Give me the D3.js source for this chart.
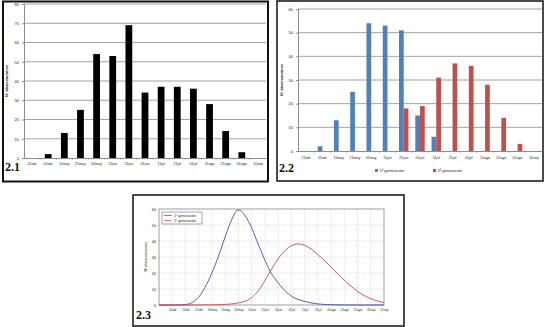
<!DOCTYPE html>
<html>
<head>
<meta charset="utf-8">
<script src="https://cdn.jsdelivr.net/npm/d3@7"></script>
<style>
  body { margin: 0; background: #fff; }
  svg text { font-family: "Liberation Sans", Arial, sans-serif; fill: #222; }
  .panel-label { font-family: "Liberation Serif", "Times New Roman", serif; font-weight: bold; fill: #111; }
</style>
</head>
<body>
<svg id="chart" width="546" height="327"></svg>
<script>
// Categories (10-day periods, labels as printed in the figure)
const categories = ['21abr', '01abr', '11may', '21may', '01may', '11jun', '21jun', '01jun',
  '11jul', '21jul', '01jul', '11ago', '21ago', '01ago', '11sep'];

// 2.1 total observations
const totalObs = [0, 2, 13, 25, 54, 53, 69, 34, 37, 37, 36, 28, 14, 3, 0];

// 2.2 observations split by generation
const gen1Obs = [0, 2, 13, 25, 54, 53, 51, 15, 6, 0, 0, 0, 0, 0, 0];
const gen2Obs = [0, 0, 0, 0, 0, 0, 18, 19, 31, 37, 36, 28, 14, 3, 0];
const seriesNames = ['1ª generación', '2ª generación'];
const seriesColors = ['#4f81bd', '#c0504d'];

const yTicks21 = [0, 10, 20, 30, 40, 50, 60, 70, 80];
const yTicks22 = [0, 10, 20, 30, 40, 50, 60];

// 2.3 fitted curves: [days since 21 mar, observations]
const curveTickDays = [10, 20, 30, 40, 50, 60, 70, 80, 90, 100, 110, 120, 130, 140, 150, 160, 170];
const curveTickLabels = ['01abr', '11abr', '21abr', '01may', '11may', '21may', '01jun', '11jun', '21jun',
  '01jul', '11jul', '21jul', '01ago', '11ago', '21ago', '01sep', '11sep'];
const yTicks23 = [0, 10, 20, 30, 40, 50, 60];
const gen1Curve = [[0, 0], [15, 0], [20, 0.3], [26, 2], [31, 6], [36, 13], [41, 22], [46, 33], [51, 45],
  [55, 53.5], [57, 57], [59, 59.2], [61, 59.3], [64, 57], [69, 50], [74, 40], [79, 30], [84, 21],
  [89, 15], [94, 10], [101, 5], [109, 2.5], [119, 0.8], [129, 0.2], [140, 0], [170, 0]];
const gen2Curve = [[0, 0], [21, 0], [41, 0.1], [54, 0.6], [61, 1.5], [69, 4], [76, 10], [84, 21],
  [91, 30], [98, 36], [102, 37.8], [105, 38.2], [110, 37.3], [115, 35], [120, 31.5], [126, 27],
  [132, 22], [138, 17], [144, 12.5], [150, 8.5], [156, 5.5], [162, 3.3], [170, 1.5]];
const curveColors = ['#4b4b9e', '#c24a4a'];

const svg = d3.select('#chart');

// ---------- bar panels ----------
function barPanel(opt) {
  const g = svg.append('g');
  g.append('rect')
    .attr('x', opt.box[0]).attr('y', opt.box[1])
    .attr('width', opt.box[2]).attr('height', opt.box[3])
    .attr('fill', '#fff').attr('stroke', '#111').attr('stroke-width', opt.boxStroke);

  const x = d3.scaleBand().domain(categories).range([opt.left, opt.right]);
  const y = d3.scaleLinear().domain([0, opt.yMax]).range([opt.bottom, opt.top]);

  // gridlines
  g.append('g').selectAll('line')
    .data(opt.yTicks.filter(d => d > 0))
    .join('line')
    .attr('x1', opt.left).attr('x2', opt.right)
    .attr('y1', d => y(d)).attr('y2', d => y(d))
    .attr('stroke', '#8c8c8c').attr('stroke-width', 0.8);

  // y axis
  const ya = g.append('g').attr('transform', `translate(${opt.left},0)`)
    .call(d3.axisLeft(y).tickValues(opt.yTicks).tickSize(2).tickPadding(3));
  ya.select('.domain').attr('stroke', '#8c8c8c');
  ya.selectAll('.tick line').attr('stroke', '#8c8c8c');
  ya.selectAll('text').attr('font-size', 4).attr('fill', '#333');

  // x axis
  const xa = g.append('g').attr('transform', `translate(0,${opt.bottom})`)
    .call(d3.axisBottom(x).tickSize(0).tickPadding(opt.xPad));
  xa.select('.domain').attr('stroke', '#8c8c8c');
  xa.selectAll('text').attr('font-size', 3.6).attr('fill', '#333');
  g.append('g').selectAll('line')
    .data(categories.slice(1))
    .join('line')
    .attr('x1', d => x(d)).attr('x2', d => x(d))
    .attr('y1', opt.bottom).attr('y2', opt.bottom + 2)
    .attr('stroke', '#8c8c8c').attr('stroke-width', 0.6);

  // y title
  g.append('text')
    .attr('transform', `translate(${opt.titleX},${(opt.top + opt.bottom) / 2}) rotate(-90)`)
    .attr('text-anchor', 'middle')
    .attr('font-size', 3.8).attr('font-weight', 'bold').attr('fill', '#333')
    .text('Nº observaciones');

  // panel label
  g.append('text').attr('class', 'panel-label')
    .attr('x', opt.box[0] + 2).attr('y', opt.labelY)
    .attr('font-size', 12)
    .text(opt.label);

  return { g, x, y };
}

// 2.1
const p1 = barPanel({
  box: [3, 1.5, 265, 180], boxStroke: 2,
  left: 24, right: 266, top: 4, bottom: 158, yMax: 80, yTicks: yTicks21,
  titleX: 8, xPad: 4, labelY: 171, label: '2.1'
});
p1.g.append('g').selectAll('rect')
  .data(categories.map((c, i) => ({ c, v: totalObs[i] })).filter(d => d.v > 0))
  .join('rect')
  .attr('x', d => p1.x(d.c) + p1.x.bandwidth() * 0.29)
  .attr('width', p1.x.bandwidth() * 0.42)
  .attr('y', d => p1.y(d.v))
  .attr('height', d => p1.y(0) - p1.y(d.v))
  .attr('fill', '#000');

// 2.2
const p2 = barPanel({
  box: [277, 1, 266, 180], boxStroke: 1.5,
  left: 298, right: 542, top: 9, bottom: 151, yMax: 60, yTicks: yTicks22,
  titleX: 283, xPad: 5, labelY: 172, label: '2.2'
});
const sub = d3.scaleBand().domain([0, 1]).range([0, p2.x.bandwidth() * 0.58]).paddingInner(0);
[gen1Obs, gen2Obs].forEach((vals, s) => {
  p2.g.append('g').selectAll('rect')
    .data(categories.map((c, i) => ({ c, v: vals[i] })).filter(d => d.v > 0))
    .join('rect')
    .attr('x', d => p2.x(d.c) + p2.x.bandwidth() * 0.21 + sub(s))
    .attr('width', sub.bandwidth())
    .attr('y', d => p2.y(d.v))
    .attr('height', d => p2.y(0) - p2.y(d.v))
    .attr('fill', seriesColors[s]);
});
// legend 2.2
const leg2 = p2.g.append('g').attr('transform', 'translate(375,172)');
seriesNames.forEach((name, i) => {
  const it = leg2.append('g').attr('transform', `translate(${i * 58},0)`);
  it.append('rect').attr('x', 0).attr('y', -3).attr('width', 3).attr('height', 3).attr('fill', seriesColors[i]);
  it.append('text').attr('x', 4.5).attr('y', 0).attr('font-size', 4).attr('fill', '#333').text(name);
});

// ---------- 2.3 curves ----------
const box3 = [133, 195, 271, 131];
const g3 = svg.append('g');
g3.append('rect')
  .attr('x', box3[0]).attr('y', box3[1]).attr('width', box3[2]).attr('height', box3[3])
  .attr('fill', '#fff').attr('stroke', '#111').attr('stroke-width', 1.5);

const pl = { left: 159, right: 384, top: 209, bottom: 305 };
const x3 = d3.scaleLinear().domain([0, 170]).range([pl.left, pl.right]);
const y3 = d3.scaleLinear().domain([0, 60]).range([pl.bottom, pl.top]);

// dotted grid
g3.append('g').selectAll('line')
  .data(curveTickDays.slice(0, -1))
  .join('line')
  .attr('x1', d => x3(d)).attr('x2', d => x3(d))
  .attr('y1', pl.top).attr('y2', pl.bottom)
  .attr('stroke', '#bdbdbd').attr('stroke-width', 0.5).attr('stroke-dasharray', '1,1');
g3.append('g').selectAll('line')
  .data(yTicks23.slice(1, -1))
  .join('line')
  .attr('x1', pl.left).attr('x2', pl.right)
  .attr('y1', d => y3(d)).attr('y2', d => y3(d))
  .attr('stroke', '#bdbdbd').attr('stroke-width', 0.5).attr('stroke-dasharray', '1,1');
g3.append('rect')
  .attr('x', pl.left).attr('y', pl.top)
  .attr('width', pl.right - pl.left).attr('height', pl.bottom - pl.top)
  .attr('fill', 'none').attr('stroke', '#777').attr('stroke-width', 0.7);

const ya3 = g3.append('g').attr('transform', `translate(${pl.left},0)`)
  .call(d3.axisLeft(y3).tickValues(yTicks23).tickSize(0).tickPadding(3));
ya3.select('.domain').remove();
ya3.selectAll('text').attr('font-size', 3.8).attr('fill', '#333');

const xa3 = g3.append('g').attr('transform', `translate(0,${pl.bottom})`)
  .call(d3.axisBottom(x3).tickValues(curveTickDays)
    .tickFormat((d, i) => curveTickLabels[i]).tickSize(0).tickPadding(4));
xa3.select('.domain').remove();
xa3.selectAll('text').attr('font-size', 3).attr('fill', '#333');

g3.append('text')
  .attr('transform', `translate(147,${(pl.top + pl.bottom) / 2}) rotate(-90)`)
  .attr('text-anchor', 'middle').attr('font-size', 3.8).attr('fill', '#333')
  .text('Nº observaciones');

const line = d3.line().x(d => x3(d[0])).y(d => y3(d[1])).curve(d3.curveMonotoneX);
[gen1Curve, gen2Curve].forEach((pts, i) => {
  g3.append('path').datum(pts)
    .attr('d', line)
    .attr('fill', 'none').attr('stroke', curveColors[i]).attr('stroke-width', 0.9);
});

// legend 2.3
const leg3 = g3.append('g').attr('transform', 'translate(162,212)');
leg3.append('rect').attr('width', 40).attr('height', 12)
  .attr('fill', '#fff').attr('stroke', '#555').attr('stroke-width', 0.5);
seriesNames.forEach((name, i) => {
  const yy = 3.5 + i * 5;
  leg3.append('line').attr('x1', 2).attr('x2', 10).attr('y1', yy).attr('y2', yy)
    .attr('stroke', curveColors[i]).attr('stroke-width', 0.7);
  leg3.append('text').attr('x', 12).attr('y', yy + 1.3).attr('font-size', 3.6).attr('fill', '#333')
    .text(name);
});

g3.append('text').attr('class', 'panel-label')
  .attr('x', 136).attr('y', 319).attr('font-size', 12).text('2.3');
</script>
</body>
</html>
